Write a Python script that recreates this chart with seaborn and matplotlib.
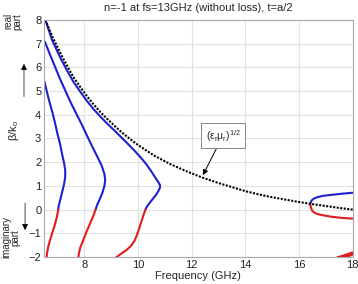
import numpy as np
import pandas as pd
import seaborn as sns
import matplotlib.pyplot as plt

# sqrt(er*ur) reference curve
freq_ref = [6.55, 6.8, 7.1, 7.35, 7.6, 7.85, 8.1, 8.35, 8.6, 8.85, 9.1, 9.35, 9.6, 9.85,
            10.1, 10.6, 11.2, 11.8, 12.4, 13.0, 13.5, 14.0, 14.5, 15.0, 15.5, 16.0,
            16.5, 17.0, 17.5, 18.0]
n_ref = [8.0, 7.32, 6.62, 6.08, 5.58, 5.17, 4.78, 4.43, 4.11, 3.83, 3.56, 3.3, 3.07, 2.85,
         2.65, 2.28, 1.92, 1.62, 1.35, 1.12, 0.95, 0.78, 0.64, 0.52, 0.42, 0.32,
         0.23, 0.15, 0.07, 0.0]

# real parts (blue)
fa_re = [6.51, 6.6, 6.7, 6.8, 6.9, 7.0, 7.1, 7.18, 7.25, 7.29, 7.29, 7.26, 7.21, 7.15,
         7.09, 7.04, 7.03]
ba_re = [5.42, 5.0, 4.55, 4.15, 3.7, 3.2, 2.75, 2.3, 1.95, 1.65, 1.4, 1.15, 0.9, 0.62,
         0.35, 0.12, 0.0]

fb_re = [6.53, 6.7, 6.9, 7.1, 7.3, 7.5, 7.7, 7.9, 8.1, 8.3, 8.5, 8.65, 8.75, 8.78, 8.75,
         8.68, 8.58, 8.48, 8.42]
bb_re = [7.08, 6.6, 6.05, 5.5, 5.0, 4.5, 4.05, 3.6, 3.12, 2.65, 2.2, 1.85, 1.5, 1.25, 1.0,
         0.72, 0.45, 0.2, 0.0]

fc_re = [6.55, 6.8, 7.1, 7.35, 7.6, 7.85, 8.1, 8.35, 8.6, 8.85, 9.1, 9.35, 9.6, 9.85,
         10.1, 10.3, 10.48, 10.63, 10.75, 10.82, 10.82, 10.76, 10.66, 10.53, 10.42, 10.33,
         10.28]
bc_re = [8.0, 7.15, 6.42, 5.88, 5.38, 4.97, 4.58, 4.23, 3.92, 3.63, 3.36, 3.08, 2.8, 2.51,
         2.2, 1.93, 1.64, 1.38, 1.17, 1.04, 0.92, 0.78, 0.6, 0.42, 0.26, 0.12, 0.0]

fd_re = [16.42, 16.47, 16.55, 16.7, 16.9, 17.2, 17.6, 18.0]
bd_re = [0.25, 0.38, 0.46, 0.53, 0.58, 0.62, 0.67, 0.71]

# imaginary parts (red, drawn downwards)
fa_im = [7.03, 6.98, 6.9, 6.8, 6.72, 6.65, 6.61, 6.6]
ba_im = [0.0, -0.3, -0.65, -1.0, -1.3, -1.6, -1.85, -2.0]

fb_im = [8.42, 8.36, 8.28, 8.18, 8.06, 7.94, 7.85, 7.8, 7.78]
bb_im = [0.0, -0.2, -0.42, -0.68, -1.0, -1.35, -1.6, -1.85, -2.0]

fc_im = [10.28, 10.2, 10.13, 10.05, 9.97, 9.88, 9.75, 9.6, 9.45, 9.3, 9.18]
bc_im = [0.0, -0.25, -0.5, -0.78, -1.05, -1.3, -1.52, -1.68, -1.8, -1.92, -2.02]

fd_im = [16.42, 16.45, 16.5, 16.6, 16.8, 17.2, 17.6, 18.0]
bd_im = [0.22, 0.08, -0.06, -0.15, -0.22, -0.3, -0.35, -0.38]

fe_im = [17.45, 17.7, 18.0]
be_im = [-2.05, -1.97, -1.85]

sns.set_style("whitegrid", {"grid.color": "#e2e2e2", "axes.edgecolor": "#aaaaaa"})
plt.rcParams['font.family'] = ['Liberation Sans', 'DejaVu Sans']
plt.rcParams['mathtext.default'] = 'regular'

fig, ax = plt.subplots(figsize=(3.58, 2.84), dpi=100)
fig.subplots_adjust(left=0.123, right=0.985, top=0.930, bottom=0.095)

blue = "#2020d0"
red = "#e01c1c"
for fx, fy in [(fa_re, ba_re), (fb_re, bb_re), (fc_re, bc_re), (fd_re, bd_re)]:
    sns.lineplot(x=fx, y=fy, sort=False, estimator=None, color=blue, lw=1.5, ax=ax)
for fx, fy in [(fa_im, ba_im), (fb_im, bb_im), (fc_im, bc_im), (fd_im, bd_im)]:
    sns.lineplot(x=fx, y=fy, sort=False, estimator=None, color=red, lw=1.5, ax=ax)
sns.lineplot(x=fe_im, y=be_im, sort=False, estimator=None, color=red, lw=3, ax=ax)
sns.lineplot(x=freq_ref, y=n_ref, sort=False, estimator=None, color="black", lw=1.5,
             linestyle=(0, (1, 0.7)), ax=ax)

ax.set_xlim(6.5, 18)
ax.set_ylim(-2, 8)
ax.set_xticks([8, 10, 12, 14, 16, 18])
ax.set_yticks(range(-2, 9))
ax.tick_params(labelsize=8, length=0, pad=2, colors="#222222")
ax.set_xlabel("Frequency (GHz)", fontsize=8, labelpad=1)
ax.set_ylabel("")

ax.annotate(r"(ε$_r$μ$_r$)$^{1/2}$", xy=(12.42, 1.45), xytext=(13.17, 3.12),
            fontsize=7.5, ha="center", va="center",
            bbox=dict(boxstyle="square,pad=0.45", fc="white", ec="#888888", lw=0.7),
            arrowprops=dict(arrowstyle="-|>", color="black", lw=0.7, mutation_scale=8,
                            shrinkA=0, shrinkB=0))

fig.text(0.553, 0.972, "n=-1 at fs=13GHz (without loss), t=a/2", fontsize=8,
         ha="center", va="center")
fig.text(0.036, 0.925, "real\npart", rotation=90, fontsize=7, ha="center", va="center",
         linespacing=0.9)
fig.text(0.031, 0.165, "imaginary\npart", rotation=90, fontsize=7, ha="center",
         va="center", linespacing=0.9)
fig.text(0.038, 0.54, r"β/k$_o$", rotation=90, fontsize=8, ha="center", va="center")
ax.annotate("", xy=(0.067, 0.785), xytext=(0.067, 0.65), xycoords="figure fraction",
            textcoords="figure fraction",
            arrowprops=dict(arrowstyle="-|>", color="black", lw=0.5, mutation_scale=9))
ax.annotate("", xy=(0.07, 0.18), xytext=(0.07, 0.295), xycoords="figure fraction",
            textcoords="figure fraction",
            arrowprops=dict(arrowstyle="-|>", color="black", lw=0.5, mutation_scale=9))

fig.savefig("out.png", dpi=100)
